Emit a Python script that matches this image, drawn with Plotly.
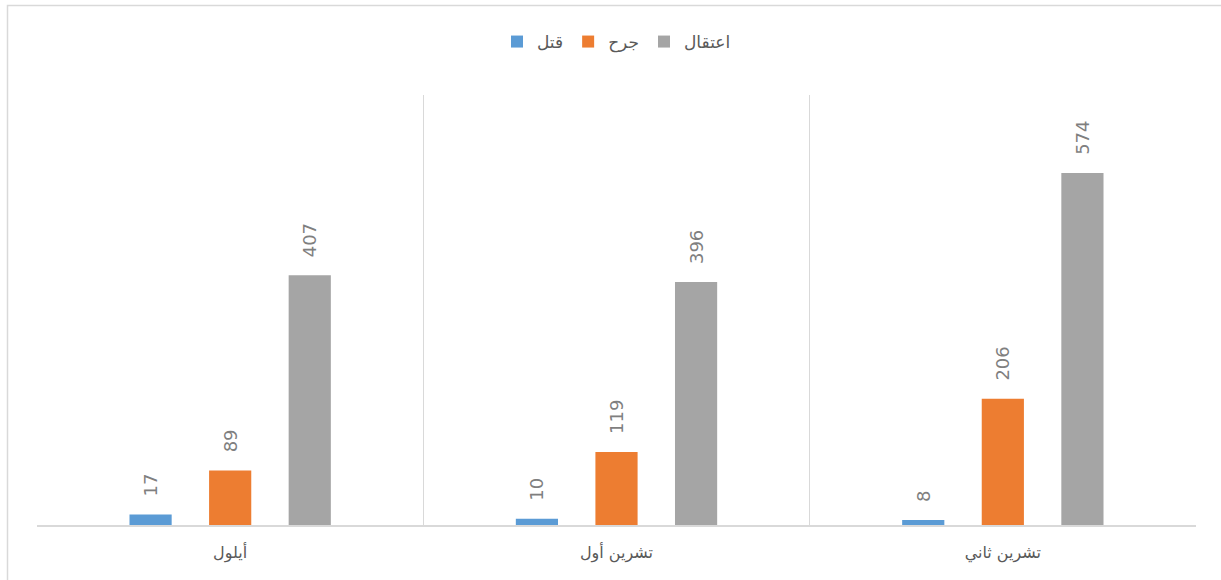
import plotly.graph_objects as go

categories = ["أيلول", "تشرين أول", "تشرين ثاني"]
series_names = ["قتل", "جرح", "اعتقال"]
killed = [17, 10, 8]
wounded = [89, 119, 206]
arrested = [407, 396, 574]
colors = ["#5B9BD5", "#ED7D31", "#A5A5A5"]

W, H = 1221, 580
L, R, T, B = 37, 25, 95, 55
pw, ph = W - L - R, H - T - B

PAD = "\u00a0\u00a0\u2009"

fig = go.Figure()
for name, vals, c in zip(series_names, [killed, wounded, arrested], colors):
    fig.add_trace(go.Bar(
        x=categories, y=vals, name=name, marker=dict(color=c, line=dict(width=0)),
        text=[PAD + str(v) for v in vals], textposition="outside", textangle=-90,
        constraintext="none",
        textfont=dict(color="#7F7F7F", size=18, family="DejaVu Sans"),
        cliponaxis=False,
    ))

def px_x(p):
    return (p - L) / pw

def px_y(p):
    return (H - B - p) / ph

fig.add_shape(type="rect", xref="paper", yref="paper",
              x0=px_x(7.5), x1=px_x(1223), y0=px_y(583), y1=px_y(5.5),
              line=dict(color="#D9D9D9", width=1.5), fillcolor="rgba(0,0,0,0)", layer="below")

fig.update_layout(
    width=W, height=H,
    margin=dict(l=L, r=R, t=T, b=B),
    paper_bgcolor="white", plot_bgcolor="white",
    barmode="group", bargap=0.382, bargroupgap=0.47,
    font=dict(family="DejaVu Sans", color="#595959"),
    legend=dict(orientation="h", x=0.5, xanchor="center", y=px_y(42), yanchor="middle",
                traceorder="normal", font=dict(size=17, color="#595959"),
                itemwidth=30),
    showlegend=True,
    xaxis=dict(type="category", tickson="boundaries", showgrid=True, gridcolor="#D9D9D9",
               gridwidth=1, showline=True, linecolor="#D9D9D9", linewidth=1.5,
               ticks="", tickfont=dict(size=16, color="#595959"), ticklabelstandoff=12),
    yaxis=dict(range=[0, 701], showgrid=False, showticklabels=False, zeroline=False,
               showline=False, ticks=""),
)

fig.write_html("out.html", config={"displayModeBar": False},
               post_script="document.body.style.margin='0';document.body.style.overflow='hidden';")
